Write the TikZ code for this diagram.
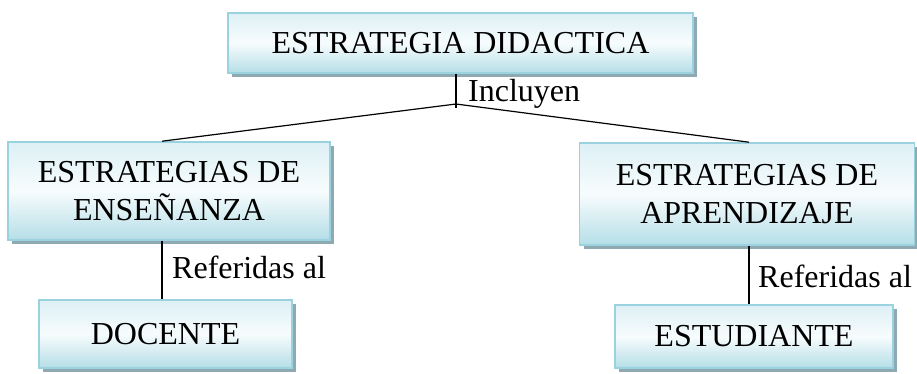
\documentclass[tikz,border=0pt]{standalone}
\usepackage{fontspec}
\setmainfont{Liberation Serif}
\usetikzlibrary{shadows,calc}
\definecolor{boxborder}{HTML}{9AD2DF}
\definecolor{boxtop}{HTML}{DDF0F5}
\definecolor{boxmid}{HTML}{F7FCFD}
\definecolor{boxbot}{HTML}{B5DEE7}
\definecolor{shadowcol}{HTML}{8EA9B2}
\tikzset{
  cbox/.style={rectangle, draw=boxborder, line width=1.6pt, inner sep=0pt,
    top color=boxtop, bottom color=boxbot, middle color=boxmid,
    align=center, font=\fontsize{32}{38}\selectfont,
    drop shadow={shadow xshift=4pt, shadow yshift=-4pt, fill=shadowcol, opacity=1}},
  conn/.style={draw=black, line width=1.2pt},
  lbl/.style={inner sep=0pt, anchor=base west, font=\fontsize{32}{38}\selectfont}
}
\begin{document}
\begin{tikzpicture}[x=1pt,y=-1pt]
\useasboundingbox (0,0) rectangle (917,373);
\node[cbox, minimum width=465pt, minimum height=60pt] (top) at (460.5,43) {ESTRATEGIA DIDACTICA};
\node[cbox, minimum width=322pt, minimum height=98pt] (left) at (169,191) {ESTRATEGIAS DE\\ENSEÑANZA};
\node[cbox, minimum width=335pt, minimum height=102pt] (right) at (747,194) {ESTRATEGIAS DE\\APRENDIZAJE};
\node[cbox, minimum width=253pt, minimum height=68pt] (doc) at (165.5,334) {DOCENTE};
\node[cbox, minimum width=278pt, minimum height=63pt] (est) at (754,336.5) {ESTUDIANTE};
\coordinate (J) at (456,104);
\coordinate (Jend) at (456,108);
\coordinate (LX) at (162,0);
\coordinate (RX) at (749,0);
\draw[conn] (top.south -| J) -- (Jend);
\draw[conn] (J) -- (left.north -| LX);
\draw[conn] (J) -- (right.north -| RX);
\draw[conn] (left.south -| LX) -- (doc.north -| LX);
\draw[conn] (right.south -| RX) -- (est.north -| RX);
\node[lbl] (inc) at (468,101) {Incluyen};
\node[lbl] (refl) at (172,278) {Referidas al};
\node[lbl] (refr) at (758,287) {Referidas al};
\end{tikzpicture}
\end{document}
